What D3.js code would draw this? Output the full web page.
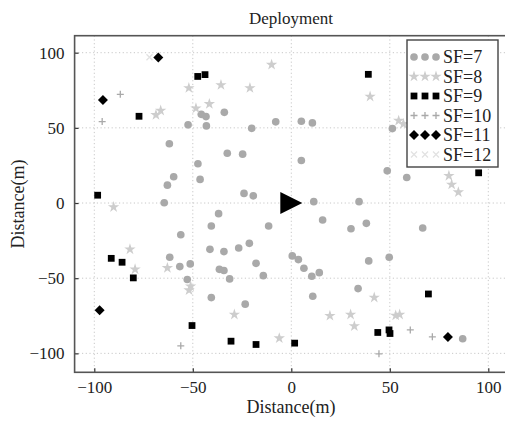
<!DOCTYPE html>
<html>
<head>
<meta charset="utf-8">
<script src="https://cdn.jsdelivr.net/npm/d3@7"></script>
<style>
	body { margin: 0; background: #fff; }
	text { font-family: "Liberation Serif", "DejaVu Serif", serif; fill: #222; }
</style>
</head>
<body>
<div id="chart"></div>
<script>
	///////////////////////////////////////////////////////////////////////////
	///////////////////////////////// Data ////////////////////////////////////
	///////////////////////////////////////////////////////////////////////////

	var sf7 = [[-45.7,59],[-43.3,57.5],[-34,60.3],[-52.4,52],[-43.1,51.3],[-20.1,49.7],[-7.9,54],[-61.9,39.4],
		[-32.5,33.1],[-24.7,32.5],[-47.4,26.1],[-59.7,17.5],[-46.3,15.7],[-62.9,11.9],[-24,6.4],[-19.3,4.8],[-64.5,0.2],
		[5.1,54.4],[10.7,53.3],[51.3,49.5],[5.1,28.3],[48.7,21.4],[58.6,17],[11.4,0.9],[34.4,0.9],
		[-36.9,-7.1],[-40.6,-15.3],[-11.5,-15.3],[-56.1,-21.1],[-41.3,-30.8],[-34.2,-32.3],[-26.7,-29.9],[-21.3,-26.8],
		[-61.7,-36.1],[-56.6,-42.3],[-51.3,-40.5],[-36.5,-44.1],[-34.2,-44.9],[-17.9,-40.1],[-31.3,-50.5],[-14.2,-48.3],
		[-52.8,-50.9],[-40.6,-62.9],[-23.4,-67.3],
		[15.9,-11.3],[30.3,-17.1],[38.1,-13.5],[66.7,-16.6],[0.5,-35.2],[3.6,-37.6],[6.4,-43.4],[10.4,-48.7],[14.2,-46.3],
		[39.3,-38.5],[49.7,-36.1],[33.9,-56.9],[10.9,-62],[87,-90.3]];
	var sf8 = [[-10,92],[-35.7,78.5],[-21,76.5],[-52,76.5],[-41.6,65.9],[-48.4,63],[-66.3,61.5],[-68.7,58.6],[-90.2,-2.7],
		[40,70.8],[54.5,54.8],[56.9,52.6],[80,18.1],[81.4,12.3],[84.8,7.2],[-81.9,-30.8],[-79.3,-44.1],[-62.9,-43.2],
		[-51.1,-55.4],[-51.9,-58],[-28.9,-74.2],[-6.1,-89.9],[42.1,-62.9],[19.6,-75],[30.1,-74.2],[32,-81.9],[53,-74.8],[55,-74.2]];
	var sf9 = [[-47.5,84.2],[-43.8,85.4],[-77.3,57.7],[-98.3,5.2],[39.1,85.6],[95.1,20.1],[-91.4,-36.8],[-85.9,-39.4],
		[-80.2,-49.8],[-50.4,-81.5],[-30.6,-91.9],[-17.9,-94.1],[69.6,-60.5],[43.9,-86.1],[49.6,-84.4],[50.1,-86.8],[1.7,-93.2]];
	var sf10 = [[-86.8,72.3],[-96,54.2],[-56.1,-95],[60.4,-84.4],[71.6,-89],[44.5,-100.3]];
	var sf11 = [[-67.5,96.8],[-95.6,68.6],[-97.3,-71.3],[79.5,-89.2]];
	var sf12 = [[-72,97]];
	var gateway = [[0,0]];

	var seriesNames = ["SF=7","SF=8","SF=9","SF=10","SF=11","SF=12"];
	var xTicks = [-100,-50,0,50,100];
	var yTicks = [-100,-50,0,50,100];

	///////////////////////////////////////////////////////////////////////////
	//////////////////////////////// Set up ///////////////////////////////////
	///////////////////////////////////////////////////////////////////////////

	var W = 505, H = 424;
	var svg = d3.select("#chart").append("svg")
		.attr("width", W)
		.attr("height", H);

	var x = d3.scaleLinear().domain([-110, 110]).range([74.6, 508]);
	var y = d3.scaleLinear().domain([-112.6, 111.3]).range([372.3, 35.7]);

	var pLeft = x.range()[0], pRight = x.range()[1], pTop = y.range()[1], pBottom = y.range()[0];

	//Grid
	var grid = svg.append("g").attr("class", "grid");
	grid.selectAll(".vgrid").data(xTicks).enter().append("line")
		.attr("x1", function(d) { return x(d); }).attr("x2", function(d) { return x(d); })
		.attr("y1", pTop).attr("y2", pBottom)
		.style("stroke", "#c8c8c8").style("stroke-dasharray", "1.2,2.5");
	grid.selectAll(".hgrid").data(yTicks).enter().append("line")
		.attr("y1", function(d) { return y(d); }).attr("y2", function(d) { return y(d); })
		.attr("x1", pLeft).attr("x2", pRight)
		.style("stroke", "#c8c8c8").style("stroke-dasharray", "1.2,2.5");

	//Axes (ticks inward)
	var fmt = function(d) { return d < 0 ? "\u2212" + Math.abs(d) : d; };
	var xAxis = svg.append("g")
		.attr("transform", "translate(0," + pBottom + ")")
		.call(d3.axisBottom(x).tickValues(xTicks).tickSizeInner(-4).tickSizeOuter(0).tickPadding(9).tickFormat(fmt));
	var yAxis = svg.append("g")
		.attr("transform", "translate(" + pLeft + ",0)")
		.call(d3.axisLeft(y).tickValues(yTicks).tickSizeInner(-4).tickSizeOuter(0).tickPadding(10).tickFormat(fmt));
	[xAxis, yAxis].forEach(function(a) {
		a.attr("font-family", null).attr("font-size", null);
		a.select(".domain").remove();
		a.selectAll(".tick line").style("stroke", "#333").style("stroke-width", 1.2);
		a.selectAll(".tick text")
			.style("font-family", "'Liberation Serif', serif")
			.style("font-size", "17px").attr("fill", "#222");
	});

	//Box
	svg.append("rect")
		.attr("x", pLeft).attr("y", pTop)
		.attr("width", pRight - pLeft).attr("height", pBottom - pTop)
		.style("fill", "none").style("stroke", "#555").style("stroke-width", 1.6);

	///////////////////////////////////////////////////////////////////////////
	//////////////////////////////// Markers //////////////////////////////////
	///////////////////////////////////////////////////////////////////////////

	var styles = [
		{ path: d3.symbol().type(d3.symbolCircle).size(46)(), fill: "#a9a9a9", stroke: "none" },
		{ path: d3.symbol().type(d3.symbolStar).size(40)(), fill: "#cdcdcd", stroke: "none" },
		{ path: d3.symbol().type(d3.symbolSquare).size(46)(), fill: "#000", stroke: "none" },
		{ path: "M-3.5,0H3.5M0,-3.5V3.5", fill: "none", stroke: "#a9a9a9" },
		{ path: "M0,-5L5,0L0,5L-5,0Z", fill: "#000", stroke: "none" },
		{ path: "M-3,-3L3,3M-3,3L3,-3", fill: "none", stroke: "#e2e2e2" }
	];
	var allSeries = [sf7, sf8, sf9, sf10, sf11, sf12];

	var marks = svg.append("g").attr("class", "marks");
	allSeries.forEach(function(data, i) {
		marks.append("g").selectAll("path")
			.data(data)
			.enter().append("path")
			.attr("transform", function(d) { return "translate(" + x(d[0]) + "," + y(d[1]) + ")"; })
			.attr("d", styles[i].path)
			.style("fill", styles[i].fill)
			.style("stroke", styles[i].stroke)
			.style("stroke-width", 1.3);
	});

	//Gateway triangle
	marks.selectAll(".gw").data(gateway).enter().append("path")
		.attr("transform", function(d) { return "translate(" + x(d[0]) + "," + y(d[1]) + ")"; })
		.attr("d", "M-11,-11L11,0L-11,11Z")
		.style("fill", "#000");

	///////////////////////////////////////////////////////////////////////////
	//////////////////////////////// Legend ///////////////////////////////////
	///////////////////////////////////////////////////////////////////////////

	var legend = svg.append("g").attr("class", "legend");
	legend.append("rect")
		.attr("x", 407).attr("y", 40).attr("width", 91).attr("height", 127)
		.style("fill", "#fff").style("stroke", "#444").style("stroke-width", 1.4);

	var rows = legend.selectAll(".row").data(seriesNames).enter().append("g")
		.attr("transform", function(d, i) { return "translate(0," + (57 + i * 19.5) + ")"; });
	rows.each(function(d, i) {
		var g = d3.select(this);
		[414, 425, 436].forEach(function(mx) {
			g.append("path")
				.attr("transform", "translate(" + mx + ",0)")
				.attr("d", styles[i].path)
				.style("fill", styles[i].fill)
				.style("stroke", styles[i].stroke)
				.style("stroke-width", 1.3);
		});
		g.append("text")
			.attr("x", 443).attr("y", 6)
			.style("font-size", "18px")
			.text(d);
	});

	///////////////////////////////////////////////////////////////////////////
	//////////////////////////////// Titles ///////////////////////////////////
	///////////////////////////////////////////////////////////////////////////

	svg.append("text")
		.attr("x", 291).attr("y", 24)
		.style("text-anchor", "middle").style("font-size", "17px")
		.text("Deployment");

	svg.append("text")
		.attr("x", 291).attr("y", 413)
		.style("text-anchor", "middle").style("font-size", "18px")
		.text("Distance(m)");

	svg.append("text")
		.attr("transform", "translate(24," + 204 + ") rotate(-90)")
		.style("text-anchor", "middle").style("font-size", "18px")
		.text("Distance(m)");
</script>
</body>
</html>
